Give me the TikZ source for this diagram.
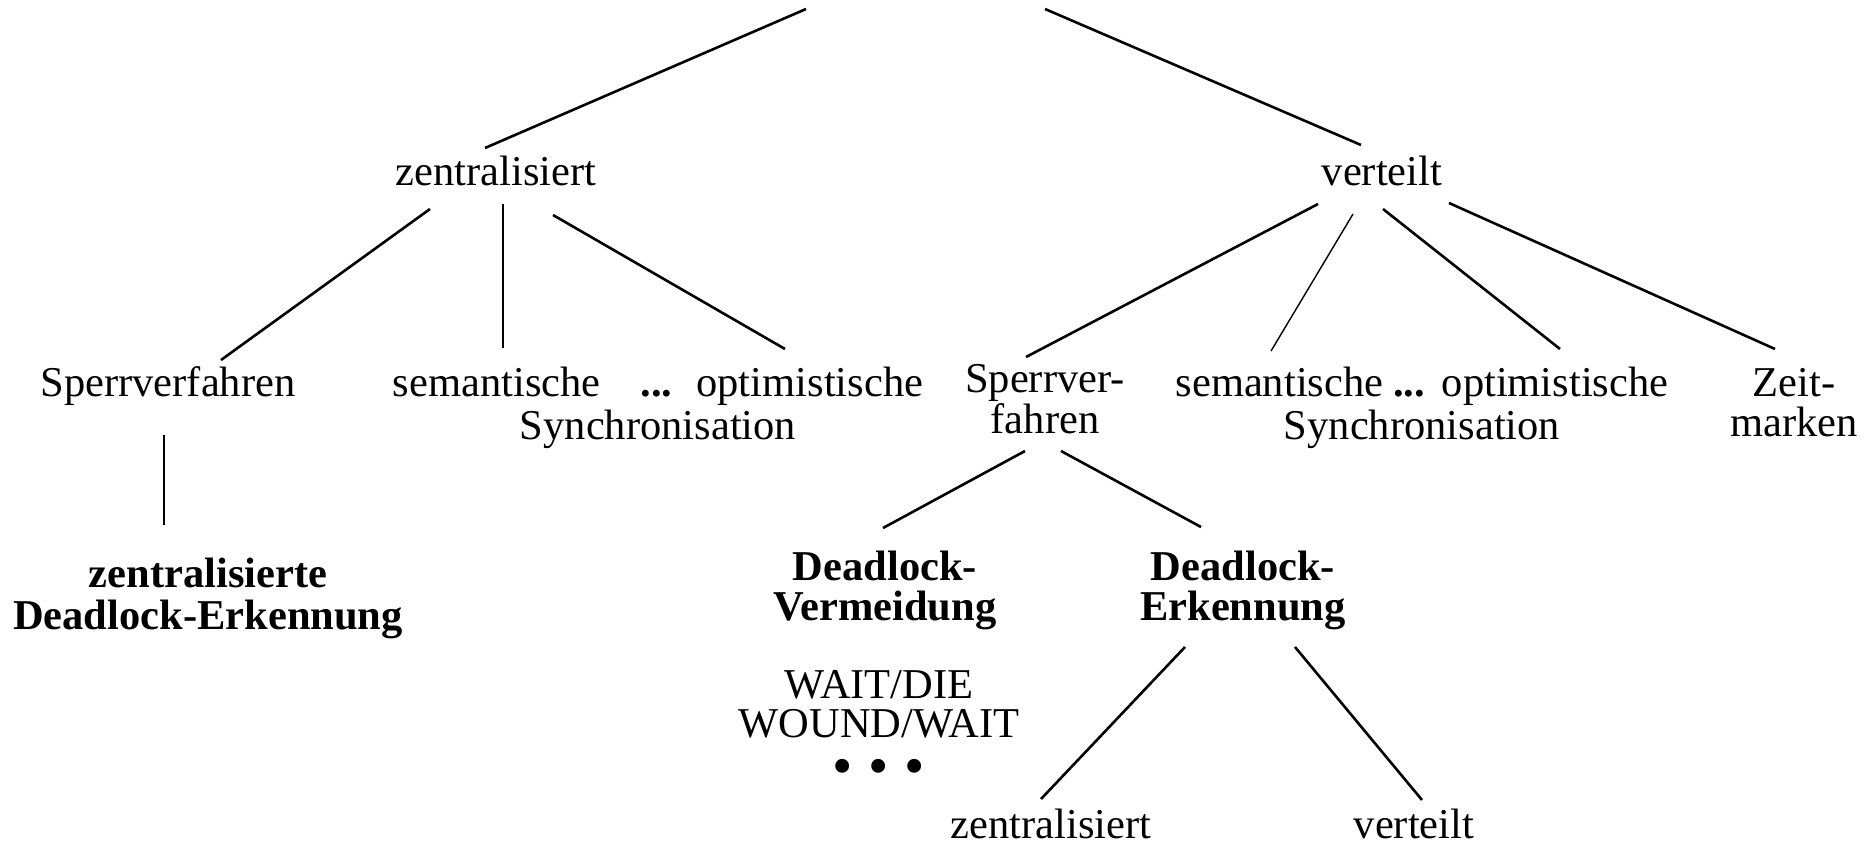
\documentclass[tikz,border=0pt]{standalone}
\usepackage{fontspec}
\setmainfont{Liberation Serif}
\usetikzlibrary{calc}
\newcommand{\bigdot}{\raisebox{-4.25pt}{\fontsize{29pt}{29pt}\selectfont •}}
\begin{document}
\begin{tikzpicture}[x=0.5pt,y=-0.5pt,
  lbl/.style={align=center, anchor=base, inner sep=0pt, outer sep=0pt},
  txt/.style={font=\fontsize{21.25pt}{#1}\selectfont},
  btxt/.style={font=\fontsize{21.25pt}{#1}\selectfont\bfseries},
  branch/.style={line width=1.3pt},
  twig/.style={line width=0.7pt}]
\useasboundingbox (0,0) rectangle (1872,846);

% upper ends of the two main branches
\coordinate (topL) at (806,9);
\coordinate (topR) at (1045,9);

% labels are placed by the baseline of their last line
% first level
\node[lbl,txt=21.5pt] (zen)  at (496,185)  {zentralisiert};
\node[lbl,txt=21.5pt] (vert) at (1382,185) {verteilt};

% second level
\node[lbl,txt=21.5pt] (spL)  at (168,396)  {Sperrverfahren};
\node[lbl,txt=21.5pt] (semL) at (658,439)
  {semantische\hspace{20pt}\textbf{...}\hspace{12pt}optimistische\\Synchronisation};
\node[lbl,txt=18.5pt] (spR)  at (1045,433) {Sperrver-\\fahren};
\node[lbl,txt=21.5pt] (semR) at (1422,439)
  {semantische\hspace{5pt}\textbf{...}\hspace{8.3pt}optimistische\\Synchronisation};
\node[lbl,txt=20pt]   (zeit) at (1794,436) {Zeit-\\marken};

% third level
\node[lbl,btxt=21pt]  (zde)  at (208,629)  {zentralisierte\\Deadlock-Erkennung};
\node[lbl,btxt=20pt]  (dvm)  at (885,620)  {Deadlock-\\Vermeidung};
\node[lbl,btxt=20pt]  (der)  at (1243,620) {Deadlock-\\Erkennung};
\node[lbl,txt=19.75pt] (wait) at (879,777)
  {WAIT/DIE\\WOUND/WAIT\\\bigdot\hspace{7.9pt}\bigdot\hspace{7.9pt}\bigdot};

% fourth level
\node[lbl,txt=21.5pt] (zz) at (1051,838) {zentralisiert};
\node[lbl,txt=21.5pt] (vv) at (1414,838) {verteilt};

% connectors
\draw[branch] (topL) -- ($(zen.base)+(-11,-37)$);
\draw[branch] (topR) -- ($(vert.base)+(-21,-40)$);
\draw[branch] ($(zen.base)+(-66,24)$) -- ($(spL.base)+(53,-36)$);
\draw[twig]   ($(zen.base)+(7,19)$)   -- ($(semL.base)+(-155,-91)$);
\draw[branch] ($(zen.base)+(57,30)$)  -- ($(semL.base)+(127,-90)$);
\draw[branch] ($(vert.base)+(-64,19)$) -- ($(spR.base)+(-19,-76)$);
\draw[twig]   ($(vert.base)+(-29,29)$) -- ($(semR.base)+(-151,-88)$);
\draw[branch] ($(vert.base)+(1,24)$)   -- ($(semR.base)+(138,-90)$);
\draw[branch] ($(vert.base)+(67,18)$)  -- ($(zeit.base)+(-19,-87)$);
\draw[branch] ($(spL.base)+(-4,39)$)   -- ($(zde.base)+(-44,-104)$);
\draw[branch] ($(spR.base)+(-20,18)$)  -- ($(dvm.base)+(-2,-92)$);
\draw[branch] ($(spR.base)+(16,18)$)   -- ($(der.base)+(-42,-93)$);
\draw[branch] ($(der.base)+(-58,27)$)  -- ($(zz.base)+(-10,-39)$);
\draw[branch] ($(der.base)+(52,27)$)   -- ($(vv.base)+(8,-38)$);
\end{tikzpicture}
\end{document}
